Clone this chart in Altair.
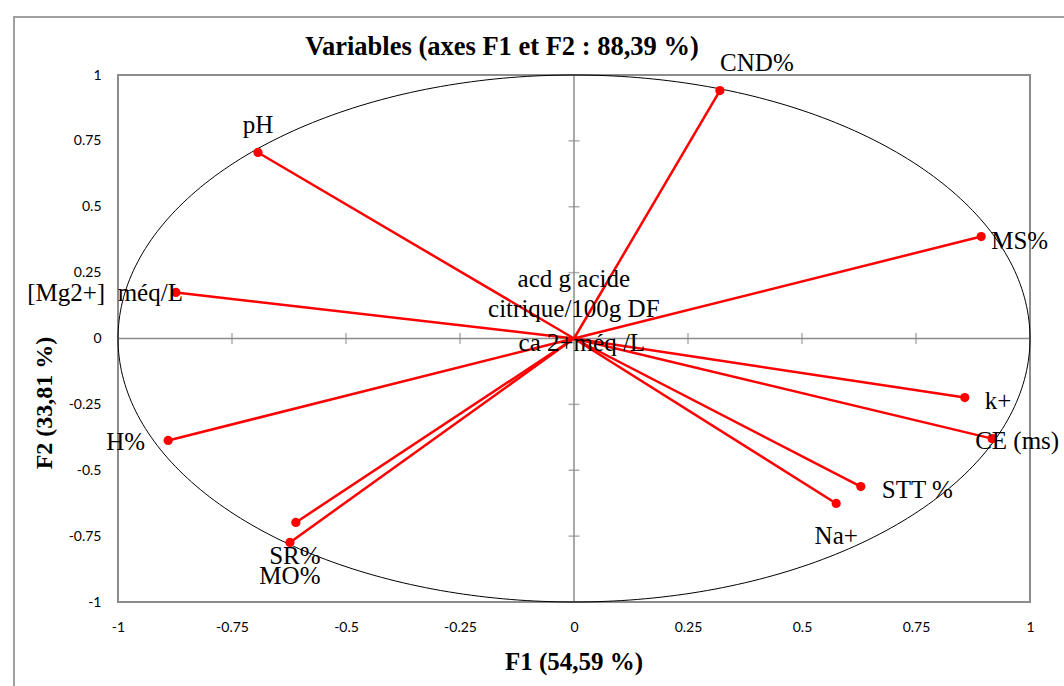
import altair as alt
import numpy as np
import pandas as pd

# ---- data ----
names = ["CND%", "pH", "MS%", "[Mg2+]\u00a0\u00a0méq/L", "k+", "CE (ms)", "STT %", "Na+",
         "H%", "SR%", "MO%", "acd g acide citrique/100g DF", "ca 2+méq /L"]
f1 = [0.320, -0.693, 0.893, -0.873, 0.857, 0.917, 0.629, 0.575,
      -0.890, -0.610, -0.623, 0.004, 0.004]
f2 = [0.941, 0.706, 0.387, 0.175, -0.224, -0.380, -0.562, -0.626,
      -0.387, -0.698, -0.774, 0.010, -0.004]
tick_values = [-1, -0.75, -0.5, -0.25, 0, 0.25, 0.5, 0.75, 1]
chart_title = "Variables (axes F1 et F2 : 88,39 %)"
x_title = "F1 (54,59 %)"
y_title = "F2 (33,81 %)"

df = pd.DataFrame({"name": names, "f1": f1, "f2": f2})
theta = np.linspace(0, 2 * np.pi, 361)
circle = pd.DataFrame({"i": np.arange(361), "cx": np.cos(theta), "cy": np.sin(theta)})
ticks = pd.DataFrame({"v": tick_values, "z": [0] * len(tick_values)})

W, H = 912, 527
GRAY = "#8c8c8c"
SERIF = "Liberation Serif"
LABEL_SIZE = 25

xscale = alt.Scale(domain=[-1, 1], nice=False, zero=False)
yscale = alt.Scale(domain=[-1, 1], nice=False, zero=False)

xaxis = alt.Axis(values=tick_values, labelExpr="'' + datum.value", grid=False, domain=False,
                 ticks=False, tickSize=0, labelPadding=18, labelFont="Lato", labelFontSize=14,
                 labelColor="#000000", labelFlush=False, title=None)
yaxis = alt.Axis(values=tick_values, labelExpr="'' + datum.value", grid=False, domain=False,
                 ticks=False, tickSize=0, labelPadding=17, labelFont="Lato", labelFontSize=14,
                 labelColor="#000000", labelFlush=False, title=None)

one = alt.Data(values=[{"a": 1}])

frame = alt.Chart(one).mark_rect(
    filled=False, stroke="#a0a0a0", strokeWidth=2, clip=False
).encode(x=alt.value(-104), x2=alt.value(960), y=alt.value(-58), y2=alt.value(620))

texts = [
    alt.Chart(one).mark_text(text=chart_title, font=SERIF, fontSize=26.5, fontWeight="bold",
                             color="#000000", align="center", baseline="middle")
    .encode(x=alt.value(384), y=alt.value(-28)),
    alt.Chart(one).mark_text(text=x_title, font=SERIF, fontSize=25, fontWeight="bold",
                             color="#000000", align="center", baseline="middle")
    .encode(x=alt.value(456), y=alt.value(587)),
    alt.Chart(one).mark_text(text=y_title, font=SERIF, fontSize=24, fontWeight="bold",
                             color="#000000", align="center", baseline="middle", angle=270)
    .encode(x=alt.value(-73), y=alt.value(328)),
]

zero_v = alt.Chart(one).mark_rule(color=GRAY, strokeWidth=1.5).encode(
    x=alt.datum(0, scale=xscale, axis=xaxis))
zero_h = alt.Chart(one).mark_rule(color=GRAY, strokeWidth=1.5).encode(
    y=alt.datum(0, scale=yscale, axis=yaxis))

xt = alt.Chart(ticks).mark_tick(orient="vertical", size=11, thickness=1.5, color=GRAY).encode(
    x=alt.X("v:Q", scale=xscale, axis=xaxis), y=alt.Y("z:Q", scale=yscale, axis=yaxis))
yt = alt.Chart(ticks).mark_tick(orient="horizontal", size=11, thickness=1.5, color=GRAY).encode(
    y=alt.Y("v:Q", scale=yscale, axis=yaxis), x=alt.X("z:Q", scale=xscale, axis=xaxis))

circ = alt.Chart(circle).mark_line(color="#000000", strokeWidth=1).encode(
    x=alt.X("cx:Q", scale=xscale, axis=xaxis), y=alt.Y("cy:Q", scale=yscale, axis=yaxis),
    order="i:Q")

base = alt.Chart(df).transform_calculate(o="0")
vectors = base.mark_rule(color="#ff0000", strokeWidth=2.5).encode(
    x=alt.X("o:Q", scale=xscale, axis=xaxis), y=alt.Y("o:Q", scale=yscale, axis=yaxis),
    x2="f1:Q", y2="f2:Q")
pts = alt.Chart(df).transform_filter(
    "datum.name != 'acd g acide citrique/100g DF' && datum.name != 'ca 2+méq /L'"
).mark_circle(color="#ff0000", size=85, opacity=1).encode(
    x=alt.X("f1:Q", scale=xscale, axis=xaxis), y=alt.Y("f2:Q", scale=yscale, axis=yaxis))


def lab(name, align, dx, dy, text=None):
    kw = dict(align=align, baseline="middle", dx=dx, dy=dy, font=SERIF,
              fontSize=LABEL_SIZE, color="#000000", clip=False)
    if text is not None:
        kw["text"] = text
        kw["lineHeight"] = 30
    ch = alt.Chart(df).transform_filter(alt.datum.name == name).mark_text(**kw)
    enc = dict(x=alt.X("f1:Q", scale=xscale, axis=xaxis), y=alt.Y("f2:Q", scale=yscale, axis=yaxis))
    if text is None:
        enc["text"] = "name:N"
    return ch.encode(**enc)


labels = [
    lab(names[0], "center", 37, -28),
    lab(names[1], "center", 0, -27),
    lab(names[2], "left", 10, 4),
    lab(names[3], "right", 7, 1),
    lab(names[4], "left", 20, 3),
    lab(names[5], "left", -17, 2),
    lab(names[6], "left", 21, 3),
    lab(names[7], "center", 0, 33),
    lab(names[8], "right", -23, 2),
    lab(names[9], "center", -1, 34),
    lab(names[10], "center", 0, 34),
    lab(names[11], "center", -2, -57, text=["acd g acide", "citrique/100g DF"]),
    lab(names[12], "center", 6, 3),
]

chart = alt.layer(frame, zero_v, zero_h, xt, yt, circ, vectors, pts, *labels, *texts).properties(
    width=W, height=H,
    autosize=alt.AutoSizeParams(type="none"),
    padding={"left": 118, "top": 75, "right": 34, "bottom": 84},
    background="#ffffff",
).configure_view(stroke=GRAY, strokeWidth=2)

chart.save("out.html", embed_options={"renderer": "svg", "actions": False})
